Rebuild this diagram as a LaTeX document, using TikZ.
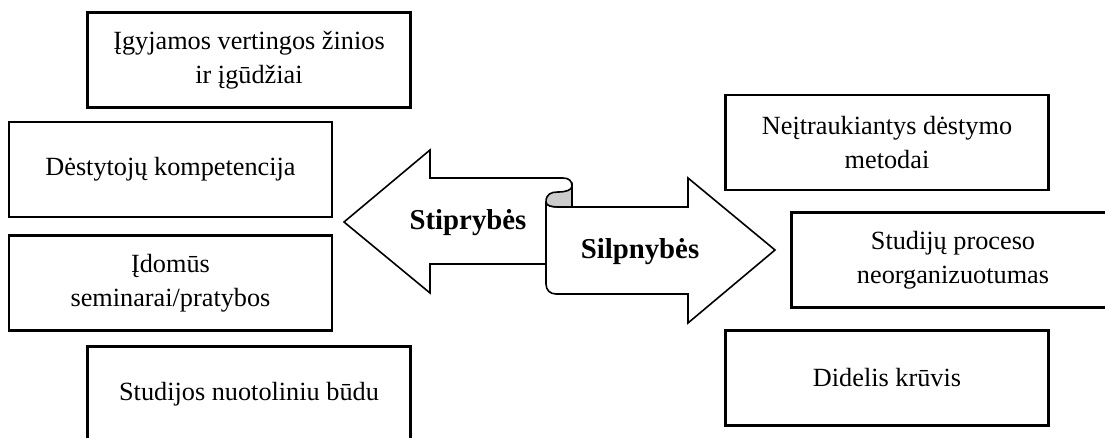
\documentclass[tikz,border=0pt]{standalone}
\usepackage{fontspec}
\setmainfont{Liberation Serif}
\usetikzlibrary{positioning}

\begin{document}
\begin{tikzpicture}[x=0.75pt, y=-0.75pt,
        box/.style={rectangle, draw=black, line width=1.6pt, minimum width=242.25pt, minimum height=71.25pt, align=center, inner sep=0pt, font=\fontsize{19.7}{25.5}\selectfont},
        bigarrow/.style={draw=black, fill=white, line width=1.2pt, line join=miter},
        arrowtext/.style={font=\fontsize{21.6}{26}\selectfont\bfseries}
    ]
        \useasboundingbox (0,0) rectangle (1105,438);
        \clip (0,0) rectangle (1105,438);

        % Strengths (left)
        \node[box] (knowledge) at (249,60) {Įgyjamos vertingos žinios\\ir įgūdžiai};
        \node[box] (lecturers) at (170.5,169.5) {Dėstytojų kompetencija};
        \node[box] (seminars) at (170.5,283) {Įdomūs\\seminarai/pratybos};
        \node[box] (distance) at (249,394) {Studijos nuotoliniu būdu};

        % Weaknesses (right)
        \node[box] (methods) at (887,142.5) {Neįtraukiantys dėstymo\\metodai};
        \node[box] (process) at (953,260) {Studijų proceso\\neorganizuotumas};
        \node[box] (workload) at (887,378) {Didelis krūvis};

        % Left arrow
        \draw[bigarrow] (545,264) -- (430,264) -- (430,293) -- (344,222) -- (430,150) -- (430,178) -- (563,178)
            .. controls (569,178) and (572,181) .. (572,186) -- (572,207);

        % Right arrow with rolled end
        \draw[bigarrow] (546,202) -- (546,284) .. controls (546,290) and (550,294) .. (556,294) -- (688,294) -- (688,323)
            -- (775,250) -- (688,178) -- (688,207) -- (560,207) .. controls (552,207) and (546,206) .. (546,202);
        \draw[bigarrow, fill=black!20] (546,202) .. controls (546,194) and (551,192) .. (558,192)
            .. controls (566,192) and (572,190) .. (572,186) -- (572,207) -- (560,207)
            .. controls (552,207) and (546,206) .. (546,202);

        \node[arrowtext] (strengths) at (468,223) {Stiprybės};
        \node[arrowtext] (weaknesses) at (640,252) {Silpnybės};
    \end{tikzpicture}
\end{document}
